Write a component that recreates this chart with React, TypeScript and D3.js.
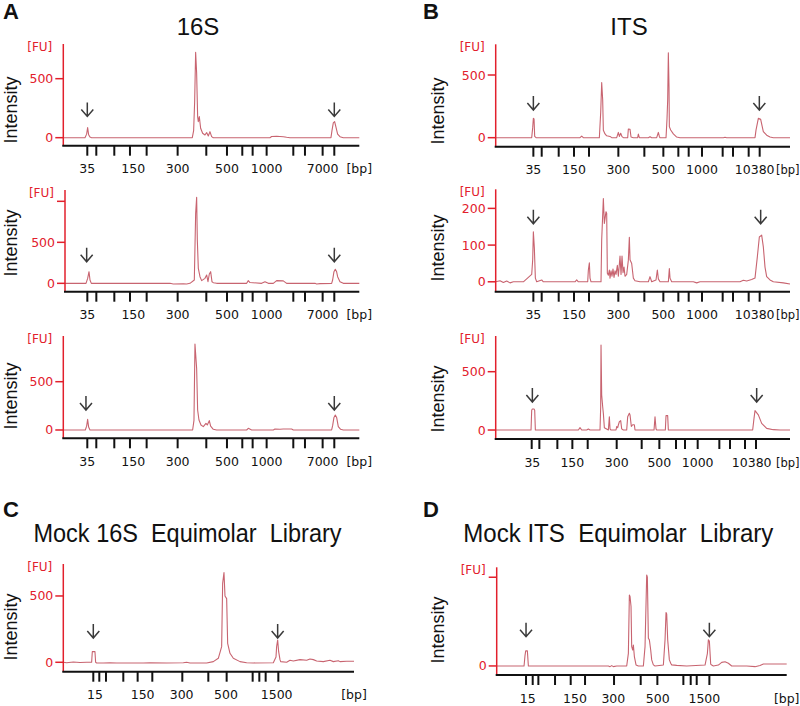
import React from 'react';
import * as d3 from 'd3';

type Pt = [number, number];
type Lbl = { v: number; t: string };

// ---------- x-axis ladder ticks (migration time, s) ----------
const TICKS_A = [26.2, 28.9, 34.3, 39.0, 44.0, 53.3, 61.9, 68.1, 72.7, 75.8, 80.0, 88.0, 91.5, 96.8, 100.3];
const LABELS_A: Lbl[] = [
  { v: 26.2, t: '35' }, { v: 40.0, t: '150' }, { v: 53.3, t: '300' },
  { v: 68.1, t: '500' }, { v: 80.0, t: '1000' }, { v: 96.8, t: '7000' },
];
const TICKS_B = [40.0, 42.5, 47.6, 52.2, 56.7, 65.5, 73.3, 79.0, 83.5, 86.6, 90.6, 96.8, 99.9, 104.6, 107.9];
const LABELS_B: Lbl[] = [
  { v: 40.0, t: '35' }, { v: 52.2, t: '150' }, { v: 65.5, t: '300' },
  { v: 79.0, t: '500' }, { v: 90.6, t: '1000' }, { v: 106.4, t: '10380' },
];
const TICKS_B3 = [39.5, 41.8, 47.2, 51.7, 56.3, 65.0, 72.5, 77.8, 82.8, 85.5, 89.3, 95.8, 99.0, 103.5, 106.8];
const LABELS_B3: Lbl[] = [
  { v: 39.7, t: '35' }, { v: 51.7, t: '150' }, { v: 65.0, t: '300' },
  { v: 77.8, t: '500' }, { v: 89.3, t: '1000' }, { v: 105.5, t: '10380' },
];
const TICKS_C = [28.0, 29.8, 31.8, 37.0, 41.3, 45.7, 54.7, 62.5, 68.0, 75.8, 77.8, 79.7, 83.5];
const LABELS_C: Lbl[] = [
  { v: 28.5, t: '15' }, { v: 42.8, t: '150' }, { v: 54.5, t: '300' },
  { v: 67.8, t: '500' }, { v: 83.0, t: '1500' },
];
const TICKS_D = [37.8, 39.8, 41.5, 46.5, 51.2, 55.5, 64.2, 72.2, 77.2, 85.0, 87.2, 89.0, 92.8];
const LABELS_D: Lbl[] = [
  { v: 38.3, t: '15' }, { v: 52.5, t: '150' }, { v: 64.0, t: '300' },
  { v: 77.3, t: '500' }, { v: 91.3, t: '1500' },
];

// ---------- y-axis ticks (FU) ----------
const YT_500: Lbl[] = [{ v: 0, t: '0' }, { v: 500, t: '500' }];
const YT_1000: Lbl[] = [{ v: 0, t: '0' }, { v: 500, t: '500' }, { v: 1000, t: '' }];
const YT_200: Lbl[] = [{ v: 0, t: '0' }, { v: 100, t: '100' }, { v: 200, t: '200' }];
const YT_D: Lbl[] = [{ v: 0, t: '0' }, { v: 500, t: '' }];

// ---------- electropherogram traces [time s, FU] ----------
const TRACE_A1: Pt[] = [
  [19.0, 0], [25.5, 0], [26.0, 30], [26.3, 85], [26.6, 25], [27.0, 5], [27.5, 0], [57.7, 0], [58.1, 60],
  [58.4, 300], [58.7, 724], [59.0, 548], [59.3, 179], [59.5, 136], [59.8, 179], [60.2, 80], [60.8, 37],
  [61.5, 23], [62.0, 43], [62.5, 14], [63.0, 51], [63.5, 9], [64.0, 0], [81.0, 0], [81.5, 10], [83.0, 12],
  [85.0, 8], [86.0, 3], [87.0, 0], [99.3, 0], [99.6, 60], [100.0, 125], [100.4, 136], [100.8, 90],
  [101.3, 30], [102.0, 8], [103.0, 0], [107.8, 0],
];
const TRACE_A2: Pt[] = [
  [19.5, 0], [25.8, 0], [26.3, 60], [26.7, 142], [27.0, 40], [27.4, 0], [51.0, 0], [52.0, -8], [55.0, -6],
  [56.0, -8], [57.0, 0], [58.3, 40], [58.7, 853], [59.0, 1049], [59.2, 528], [59.5, 183], [60.0, 81],
  [60.5, 33], [61.5, 61], [62.0, 102], [62.4, 20], [62.8, 114], [63.2, 142], [63.6, 20], [64.0, 8],
  [65.0, 0], [74.0, 0], [74.5, 33], [75.0, 10], [78.5, 0], [79.5, 20], [80.5, 0], [82.0, 0], [83.0, 33],
  [85.0, 30], [86.0, 0], [94.5, 0], [95.0, -8], [96.0, -4], [99.5, 0], [99.8, 41], [100.2, 142],
  [100.6, 171], [101.0, 140], [101.3, 81], [102.0, 20], [103.0, 0], [107.8, 0],
];
const TRACE_A3: Pt[] = [
  [19.0, 0], [25.6, 0], [26.0, 40], [26.3, 110], [26.6, 30], [27.0, 0], [57.8, 0], [58.2, 100],
  [58.5, 890], [59.0, 638], [59.3, 207], [59.7, 103], [60.3, 52], [61.0, 35], [61.8, 69], [62.2, 52],
  [62.8, 97], [63.2, 40], [64.0, 7], [65.0, 0], [74.0, 0], [74.5, 17], [75.5, 0], [82.0, 0], [82.5, 10],
  [84.0, 8], [85.0, 10], [87.5, 10], [88.0, 0], [99.5, 0], [99.8, 45], [100.2, 130], [100.6, 155],
  [101.0, 130], [101.5, 35], [102.2, 7], [103.0, 0], [107.8, 0],
];
const TRACE_B1: Pt[] = [
  [28.7, 0], [39.5, 0], [39.8, 80], [40.0, 154], [40.2, 150], [40.4, 10], [40.8, 0], [54.0, 0], [54.5, 13],
  [55.0, 0], [59.8, 0], [60.2, 200], [60.5, 439], [60.8, 300], [61.0, 60], [61.5, 30], [62.0, 15],
  [63.0, 10], [63.5, 0], [65.0, 0], [65.5, 42], [65.8, 10], [66.2, 35], [66.6, 8], [67.0, 0], [68.3, 0],
  [68.5, 69], [69.0, 66], [69.3, 5], [70.0, 0], [71.3, 0], [71.5, 29], [71.8, 0], [74.5, 0], [75.0, 8],
  [75.5, 0], [77.0, 0], [77.5, 42], [77.8, 10], [78.0, 0], [79.8, 0], [80.1, 150], [80.3, 300],
  [80.5, 678], [80.7, 407], [80.8, 88], [81.2, 61], [82.0, 30], [83.0, 5], [84.0, 0], [97.0, 0],
  [97.5, 3], [98.0, 0], [106.5, 0], [106.8, 60], [107.5, 154], [108.2, 146], [109.0, 48], [110.0, 20],
  [111.0, 5], [112.0, 0], [117.0, 0],
];
const TRACE_B2: Pt[] = [
  [28.7, 0], [30.0, 3], [31.0, -2], [32.0, 2], [33.0, -3], [34.0, 0], [37.0, 0], [39.5, 20], [39.8, 60],
  [40.0, 136], [40.3, 91], [40.6, 10], [41.0, 0], [42.5, 5], [43.0, 0], [52.5, 0], [53.0, 5], [53.5, 0],
  [56.3, 0], [56.5, 32], [56.8, 52], [57.0, 10], [57.3, 0], [60.3, 0], [60.5, 114], [61.0, 227],
  [61.3, 159], [61.8, 191], [62.0, 186], [62.2, 23], [62.5, 18], [62.8, 32], [63.0, 10], [63.3, 30],
  [63.6, 15], [63.9, 35], [64.2, 12], [64.5, 30], [64.8, 20], [65.2, 45], [65.5, 15], [66.0, 70],
  [66.3, 20], [66.6, 70], [66.9, 25], [67.2, 40], [67.5, 15], [68.0, 20], [68.5, 59], [68.8, 121],
  [69.0, 60], [69.5, 50], [70.0, 10], [70.5, 3], [72.0, 0], [74.5, 0], [75.0, 14], [75.5, 0], [76.8, 5],
  [77.2, 32], [77.5, 8], [78.0, 0], [80.5, 0], [80.8, 36], [81.0, 10], [81.5, 0], [88.0, 0], [89.0, -3],
  [90.0, 0], [102.0, 0], [103.0, 4], [104.0, 2], [105.5, 6], [106.5, 10], [107.2, 68], [107.8, 122],
  [108.5, 127], [109.0, 95], [109.5, 40], [110.0, 14], [111.0, 5], [112.0, 0], [115.0, -3], [117.0, -6],
];
const TRACE_B3: Pt[] = [
  [28.7, 0], [39.3, 0], [39.5, 170], [39.7, 180], [40.2, 180], [40.4, 170], [40.6, 0], [53.5, 0],
  [54.0, 20], [54.5, 0], [56.0, 0], [56.5, 9], [57.0, 0], [60.0, 0], [60.2, 200], [60.3, 729],
  [60.5, 300], [60.8, 200], [61.0, 143], [61.3, 20], [62.5, 0], [62.8, 114], [63.0, 10], [63.3, 0],
  [64.8, 0], [65.0, 29], [65.3, 20], [65.5, 43], [65.8, 71], [66.2, 80], [66.5, 10], [67.0, 0], [68.0, 0],
  [68.3, 114], [68.8, 143], [69.0, 130], [69.4, 30], [69.8, 45], [70.3, 45], [70.5, 0], [76.2, 0],
  [76.5, 114], [76.8, 10], [77.0, 0], [79.6, 0], [79.8, 123], [80.3, 123], [80.5, 0], [105.8, 0],
  [106.2, 100], [106.5, 166], [107.5, 130], [108.5, 57], [110.0, 14], [112.0, 3], [114.0, 0], [117.0, 0],
];
const TRACE_C: Pt[] = [
  [19.0, 0], [20.0, -3], [22.0, 2], [24.0, -2], [26.0, 0], [27.5, 0], [27.7, 80], [28.5, 80], [28.7, 0],
  [29.0, -5], [31.0, -5], [33.0, -3], [35.0, -5], [40.0, -5], [43.0, -5], [45.0, -3], [50.0, -5],
  [55.0, -3], [56.0, 0], [57.0, -5], [62.0, -5], [64.0, 5], [65.5, 30], [66.5, 118], [66.8, 595],
  [67.2, 676], [67.5, 500], [68.0, 480], [68.3, 143], [69.0, 68], [70.0, 30], [72.0, 5], [74.0, -3],
  [76.0, -5], [82.0, -3], [82.8, 40], [83.0, 120], [83.3, 168], [83.6, 80], [84.0, 20], [84.2, 5],
  [86.0, 0], [87.0, 15], [88.0, 10], [90.0, 20], [92.0, 15], [93.0, 25], [94.0, 20], [95.0, 10],
  [97.0, 5], [99.0, 15], [100.0, 5], [101.5, 12], [102.0, 5], [104.0, 8], [106.2, 8],
];
const TRACE_D: Pt[] = [
  [29.0, 0], [37.2, 0], [37.5, 60], [37.7, 85], [38.2, 85], [38.5, 0], [62.5, 0], [63.0, -4], [63.5, 2],
  [64.0, -4], [65.0, 0], [68.0, 0], [68.5, 71], [68.8, 400], [69.0, 391], [69.3, 335], [69.5, 109],
  [69.8, 90], [70.0, 118], [70.3, 53], [70.8, 6], [71.5, 0], [73.0, 0], [73.5, 109], [74.0, 513],
  [74.2, 500], [74.5, 156], [74.8, 147], [75.2, 90], [75.5, 34], [76.0, 6], [76.5, 0], [79.0, 5],
  [79.5, 147], [79.8, 301], [80.0, 293], [80.3, 147], [80.8, 34], [81.2, 15], [81.5, 6], [83.0, 3],
  [86.0, 0], [91.5, 5], [92.2, 70], [92.5, 147], [92.8, 140], [93.2, 10], [93.5, 5], [94.0, 0],
  [95.5, 5], [96.5, 20], [97.5, 24], [98.5, 15], [99.5, 0], [104.0, 0], [106.5, -4], [108.0, 3],
  [109.0, 11], [116.0, 11],
];

// ---------- marker arrows [time s, FU of arrow tip] ----------
const ARROWS_A1: Pt[] = [[26.2, 180], [100.3, 180]];
const ARROWS_A2: Pt[] = [[26.0, 263], [100.3, 263]];
const ARROWS_A3: Pt[] = [[25.8, 207], [100.3, 207]];
const ARROWS_B1: Pt[] = [[40.0, 221], [107.8, 221]];
const ARROWS_B2: Pt[] = [[40.0, 158], [108.2, 158]];
const ARROWS_B3: Pt[] = [[39.7, 240], [107.0, 240]];
const ARROWS_C: Pt[] = [[28.0, 183], [83.3, 183]];
const ARROWS_D: Pt[] = [[37.8, 165], [92.8, 165]];

const RED = '#e2202c';
const TRACE = '#c86470';
const SANS = 'Liberation Sans, Arial, sans-serif';
const TICKFONT = 'DejaVu Sans, Verdana, sans-serif';

type Cfg = {
  left: number; right: number; top: number; bottom: number;
  xd: [number, number]; yd: [number, number];
  ticks: number[]; labels: Lbl[]; yticks: Lbl[];
  trace: Pt[]; arrows: Pt[];
  ylx: number; yly: number; bpStart?: number;
};

const PANELS: Cfg[] = [
  { left: 63.3, right: 359.3, top: 44, bottom: 145.7, xd: [19.0, 107.8], yd: [-68, 794], ticks: TICKS_A, labels: LABELS_A, yticks: YT_500, trace: TRACE_A1, arrows: ARROWS_A1, ylx: 16.5, yly: 110 },
  { left: 65, right: 359.3, top: 190, bottom: 291.7, xd: [19.5, 107.8], yd: [-102, 1138], ticks: TICKS_A, labels: LABELS_A, yticks: YT_1000, trace: TRACE_A2, arrows: ARROWS_A2, ylx: 16.5, yly: 243 },
  { left: 63.3, right: 359.3, top: 336, bottom: 438.3, xd: [19.0, 107.8], yd: [-86, 973], ticks: TICKS_A, labels: LABELS_A, yticks: YT_500, trace: TRACE_A3, arrows: ARROWS_A3, ylx: 16.5, yly: 396 },
  { left: 495.7, right: 790, top: 44.3, bottom: 146.7, xd: [28.7, 117.0], yd: [-72, 745], ticks: TICKS_B, labels: LABELS_B, yticks: YT_500, trace: TRACE_B1, arrows: ARROWS_B1, ylx: 444, yly: 111, bpStart: 776 },
  { left: 495.7, right: 790, top: 189.3, bottom: 291.7, xd: [28.7, 117.0], yd: [-27, 252], ticks: TICKS_B, labels: LABELS_B, yticks: YT_200, trace: TRACE_B2, arrows: ARROWS_B2, ylx: 444, yly: 248, bpStart: 776 },
  { left: 495.7, right: 790, top: 336, bottom: 439, xd: [28.7, 117.0], yd: [-77, 806], ticks: TICKS_B3, labels: LABELS_B3, yticks: YT_500, trace: TRACE_B3, arrows: ARROWS_B3, ylx: 444, yly: 399, bpStart: 776 },
  { left: 63.3, right: 354, top: 564, bottom: 671.7, xd: [19.0, 106.2], yd: [-71, 741], ticks: TICKS_C, labels: LABELS_C, yticks: YT_500, trace: TRACE_C, arrows: ARROWS_C, ylx: 16.5, yly: 627 },
  { left: 496.7, right: 786.7, top: 567.3, bottom: 675, xd: [29.0, 116.0], yd: [-51, 556], ticks: TICKS_D, labels: LABELS_D, yticks: YT_D, trace: TRACE_D, arrows: ARROWS_D, ylx: 444, yly: 630 },
];

function Panel({ c }: { c: Cfg }) {
  const x = d3.scaleLinear().domain(c.xd).range([c.left, c.right]);
  const y = d3.scaleLinear().domain(c.yd).range([c.bottom, c.top]);
  const line = d3.line<Pt>().x(d => x(d[0])).y(d => y(d[1]));
  return (
    <g>
      <text transform={`translate(${c.ylx},${c.yly}) rotate(-90)`} textAnchor="middle"
        fontFamily={SANS} fontSize={18} fill="#111">Intensity</text>
      <text x={c.left - 11} y={c.top + 7} textAnchor="end" fontFamily={TICKFONT} fontSize={12} fill={RED}>[FU]</text>
      <path d={line(c.trace) || ''} fill="none" stroke={TRACE} strokeWidth={1.1} strokeLinejoin="round" />
      <line x1={c.left} x2={c.left} y1={c.top} y2={c.bottom} stroke={RED} strokeWidth={1.5} />
      {c.yticks.map((t, i) => (
        <g key={i}>
          <line x1={c.left - 8} x2={c.left} y1={y(t.v)} y2={y(t.v)} stroke={RED} strokeWidth={1.5} />
          {t.t && <text x={c.left - 10} y={y(t.v) + 4.5} textAnchor="end" fontFamily={TICKFONT} fontSize={12.5} fill={RED}>{t.t}</text>}
        </g>
      ))}
      <line x1={c.left - 1} x2={c.right} y1={c.bottom} y2={c.bottom} stroke="#111" strokeWidth={2} />
      {c.ticks.map((t, i) => (
        <line key={i} x1={x(t)} x2={x(t)} y1={c.bottom} y2={c.bottom + 10} stroke="#111" strokeWidth={2} />
      ))}
      {c.labels.map((l, i) => (
        <text key={i} x={x(l.v)} y={c.bottom + 27.5} textAnchor="middle" fontFamily={TICKFONT} fontSize={12.5} fill="#111">{l.t}</text>
      ))}
      {c.bpStart !== undefined
        ? <text x={c.bpStart} y={c.bottom + 27.5} textAnchor="start" fontFamily={TICKFONT} fontSize={11.5} fill="#111">[bp]</text>
        : <text x={c.right} y={c.bottom + 27.5} textAnchor="middle" fontFamily={TICKFONT} fontSize={12.5} fill="#111">[bp]</text>}
      {c.arrows.map((a, i) => {
        const ax = x(a[0]);
        const ay = y(a[1]);
        return (
          <path key={i} d={`M${ax},${ay - 14}L${ax},${ay}M${ax - 6},${ay - 7}L${ax},${ay}L${ax + 6},${ay - 7}`}
            fill="none" stroke="#3a3a3a" strokeWidth={1.5} />
        );
      })}
    </g>
  );
}

export default function App() {
  return (
    <svg width={800} height={706} style={{ position: 'absolute', left: 0, top: 0, background: '#fff' }}>
      <rect width={800} height={706} fill="#fff" />
      <text x={3} y={18.5} fontFamily={SANS} fontWeight="bold" fontSize={22} fill="#111">A</text>
      <text x={423} y={18.5} fontFamily={SANS} fontWeight="bold" fontSize={22} fill="#111">B</text>
      <text x={3} y={517} fontFamily={SANS} fontWeight="bold" fontSize={22} fill="#111">C</text>
      <text x={423} y={517} fontFamily={SANS} fontWeight="bold" fontSize={22} fill="#111">D</text>
      <text x={198} y={35} textAnchor="middle" fontFamily={SANS} fontSize={24} fill="#111">16S</text>
      <text x={629} y={35} textAnchor="middle" fontFamily={SANS} fontSize={24} fill="#111">ITS</text>
      <text x={187.5} y={542} textAnchor="middle" fontFamily={SANS} fontSize={25} fill="#111"
        textLength={308} lengthAdjust="spacingAndGlyphs" style={{ whiteSpace: 'pre' }}>{'Mock 16S  Equimolar  Library'}</text>
      <text x={618.3} y={542} textAnchor="middle" fontFamily={SANS} fontSize={25} fill="#111"
        textLength={310} lengthAdjust="spacingAndGlyphs" style={{ whiteSpace: 'pre' }}>{'Mock ITS  Equimolar  Library'}</text>
      {PANELS.map((c, i) => <Panel key={i} c={c} />)}
    </svg>
  );
}
